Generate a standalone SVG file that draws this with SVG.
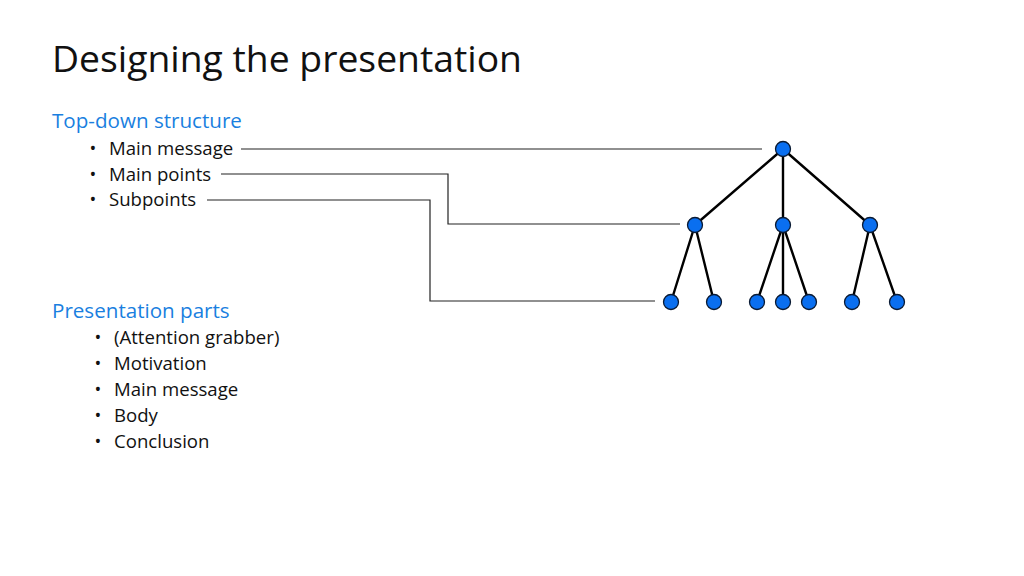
<svg xmlns="http://www.w3.org/2000/svg" width="1024" height="576" viewBox="0 0 1024 576">
<style>
text{font-family:"Open Sans","Noto Sans","Liberation Sans",sans-serif;fill:#111}
.t{font-size:37.3px}
.h{font-size:20.6px;fill:#1a7fe0}
.b{font-size:18.6px}
.d{font-size:18px;text-anchor:middle}
.lead{fill:none;stroke:#222;stroke-width:1.2}
.edge{stroke:#000;stroke-width:2.4}
.n{fill:#0a6ff0;stroke:#0a1a33;stroke-width:1.3}
</style>
<rect width="1024" height="576" fill="#fff"/>
<text class="t" x="52" y="72">Designing the presentation</text>
<text class="h" x="52" y="128">Top-down structure</text>
<text class="d" x="93" y="155">•</text><text class="b" x="109" y="155">Main message</text>
<text class="d" x="93" y="181">•</text><text class="b" x="109" y="181">Main points</text>
<text class="d" x="93" y="206">•</text><text class="b" x="109" y="206">Subpoints</text>
<text class="h" x="52" y="318">Presentation parts</text>
<text class="d" x="98" y="344">•</text><text class="b" x="114" y="344">(Attention grabber)</text>
<text class="d" x="98" y="370">•</text><text class="b" x="114" y="370">Motivation</text>
<text class="d" x="98" y="396">•</text><text class="b" x="114" y="396">Main message</text>
<text class="d" x="98" y="422">•</text><text class="b" x="114" y="422">Body</text>
<text class="d" x="98" y="448">•</text><text class="b" x="114" y="448">Conclusion</text>
<g id="connectors">
<path class="lead" d="M241 149H762"/>
<path class="lead" d="M221 174H448V224H680"/>
<path class="lead" d="M207 200H430V301H655"/>
<path class="edge" d="M783 149L695 225M783 149V225M783 149L870 225M695 225L671 302M695 225L714 302M783 225L757 302M783 225V302M783 225L809 302M870 225L852 302M870 225L897 302"/>
</g>
<g id="root"><circle class="n" cx="783" cy="149" r="7.5"/></g>
<g id="mp1"><circle class="n" cx="695" cy="225" r="7.5"/></g>
<g id="mp2"><circle class="n" cx="783" cy="225" r="7.5"/></g>
<g id="mp3"><circle class="n" cx="870" cy="225" r="7.5"/></g>
<g id="sp1"><circle class="n" cx="671" cy="302" r="7.5"/></g>
<g id="sp2"><circle class="n" cx="714" cy="302" r="7.5"/></g>
<g id="sp3"><circle class="n" cx="757" cy="302" r="7.5"/></g>
<g id="sp4"><circle class="n" cx="783" cy="302" r="7.5"/></g>
<g id="sp5"><circle class="n" cx="809" cy="302" r="7.5"/></g>
<g id="sp6"><circle class="n" cx="852" cy="302" r="7.5"/></g>
<g id="sp7"><circle class="n" cx="897" cy="302" r="7.5"/></g>
</svg>
